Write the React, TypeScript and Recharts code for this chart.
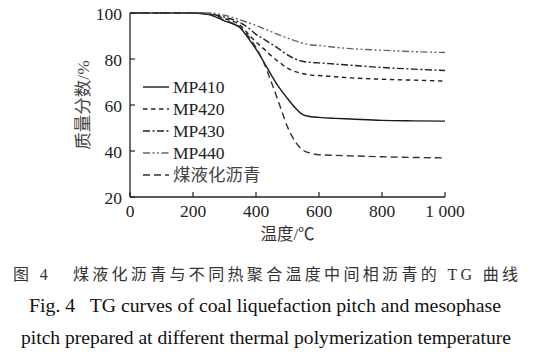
import { LineChart, Line, XAxis, YAxis, Legend } from "recharts";

// temperatures (°C) where the curves were read
const temps = [0, 50, 100, 150, 200, 250, 300, 350, 375, 400, 425, 450, 475, 500, 525, 550, 575, 600, 650, 700, 800, 900, 1000];

// mass fraction (%) per sample
const mp410 = [100, 100, 100, 100, 100, 99.3, 96.6, 93.5, 89.2, 84.3, 78.7, 72.7, 67.3, 62.8, 58.7, 55.7, 54.9, 54.6, 54.2, 53.9, 53.3, 53.1, 53.0];
const mp420 = [100, 100, 100, 100, 100, 99.6, 97.6, 94.6, 91.0, 87.4, 84.4, 81.2, 78.5, 76.0, 74.5, 73.6, 73.0, 72.8, 72.3, 71.8, 71.2, 70.8, 70.4];
const mp430 = [100, 100, 100, 100, 100, 99.7, 98.2, 95.8, 93.6, 90.7, 88.6, 86.5, 84.2, 81.8, 80.0, 78.9, 78.5, 78.3, 77.8, 77.3, 76.3, 75.6, 75.0];
const mp440 = [100, 100, 100, 100, 100, 100, 99.0, 97.0, 95.8, 94.6, 93.2, 91.8, 90.4, 89.1, 87.9, 86.8, 86.1, 85.9, 85.1, 84.5, 83.8, 83.2, 82.8];
const coal = [100, 100, 100, 100, 100, 99.4, 96.8, 93.8, 90.0, 85.0, 78.3, 69.5, 60.0, 50.5, 44.0, 40.3, 39.0, 38.4, 38.1, 37.9, 37.5, 37.2, 37.0];

const xTicks = [0, 200, 400, 600, 800, 1000];
const yTicks = [20, 40, 60, 80, 100];

const data = temps.map((t, i) => ({
  t,
  mp410: mp410[i],
  mp420: mp420[i],
  mp430: mp430[i],
  mp440: mp440[i],
  coal: coal[i],
}));

const series = [
  { key: "mp410", name: "MP410", stroke: "#1a1a1a", dash: undefined as string | undefined },
  { key: "mp420", name: "MP420", stroke: "#222", dash: "4.5 3.5" },
  { key: "mp430", name: "MP430", stroke: "#222", dash: "7 2.5 2 2.5" },
  { key: "mp440", name: "MP440", stroke: "#666", dash: "7 2.5 2 2.5 2 2.5" },
  { key: "coal", name: "煤液化沥青", stroke: "#333", dash: "7 4" },
];

const FONT = "'Liberation Serif', 'Noto Sans CJK SC', serif";

const fmtX = (v: number) => (v === 1000 ? "1 000" : String(v));

function XTick(props: any) {
  const { x, y, payload } = props;
  return (
    <g>
      <line x1={x} x2={x} y1={y} y2={y - 5} stroke="#222" strokeWidth={1.2} />
      <text x={x} y={y + 19.5} textAnchor="middle" fontSize={17.5} fill="#222" fontFamily={FONT}>
        {fmtX(payload.value)}
      </text>
    </g>
  );
}

function YTick(props: any) {
  const { x, y, payload } = props;
  return (
    <g>
      <line x1={x} x2={x + 5} y1={y} y2={y} stroke="#222" strokeWidth={1.2} />
      <text x={x - 8} y={y + 6.5} textAnchor="end" fontSize={17.5} fill="#222" fontFamily={FONT}>
        {payload.value}
      </text>
    </g>
  );
}

function LegendBox() {
  return (
    <svg width={130} height={115}>
      {series.map((s, i) => {
        const yy = 12 + i * 22;
        return (
          <g key={s.key}>
            <line x1={3} x2={29} y1={yy} y2={yy} stroke={s.stroke} strokeWidth={1.4} strokeDasharray={s.dash} />
            <text
              x={33}
              y={yy + 6.3}
              fontSize={17.5}
              fill={i === 4 ? "#444" : "#222"}
              fontFamily={FONT}
            >
              {s.name}
            </text>
          </g>
        );
      })}
    </svg>
  );
}

export default function App() {
  return (
    <div
      style={{
        position: "absolute",
        left: 0,
        top: 0,
        width: 546,
        height: 361,
        background: "#fff",
        fontFamily: FONT,
      }}
    >
      <LineChart width={546} height={250} data={data} margin={{ top: 13, right: 101, left: 0, bottom: 0 }}>
        <XAxis
          dataKey="t"
          type="number"
          domain={[0, 1000]}
          ticks={xTicks}
          height={53}
          tickSize={0}
          tickMargin={0}
          tick={<XTick />}
          axisLine={{ stroke: "#222", strokeWidth: 1.3 }}
          label={{
            value: "温度/℃",
            position: "insideBottom",
            offset: 10,
            fontSize: 16.5,
            fill: "#333",
            fontFamily: FONT,
          }}
        />
        <YAxis
          type="number"
          domain={[20, 100]}
          ticks={yTicks}
          width={130}
          tickSize={0}
          tickMargin={0}
          tick={<YTick />}
          axisLine={{ stroke: "#222", strokeWidth: 1.3 }}
          label={{
            value: "质量分数/%",
            angle: -90,
            position: "insideLeft",
            offset: 83,
            fontSize: 17.5,
            fill: "#444",
            fontFamily: FONT,
            style: { textAnchor: "middle" },
          }}
        />
        <Legend
          layout="vertical"
          align="center"
          verticalAlign="middle"
          wrapperStyle={{ left: 140, top: 75, width: 130 }}
          content={() => <LegendBox />}
        />
        {series.map((s) => (
          <Line
            key={s.key}
            type="monotone"
            dataKey={s.key}
            name={s.name}
            stroke={s.stroke}
            strokeWidth={1.4}
            strokeDasharray={s.dash}
            dot={false}
            activeDot={false}
            isAnimationActive={false}
          />
        ))}
      </LineChart>
      <svg width={546} height={111} style={{ position: "absolute", left: 0, top: 250 }}>
        <text
          x={13}
          y={30}
          fontSize={16}
          fill="#333"
          fontFamily={FONT}
          textLength={505}
          lengthAdjust="spacing"
          style={{ whiteSpace: "pre" }}
        >
          {"图 4   煤液化沥青与不同热聚合温度中间相沥青的 TG 曲线"}
        </text>
        <text
          x={29}
          y={62}
          fontSize={19}
          fill="#111"
          fontFamily={FONT}
          textLength={472}
          lengthAdjust="spacingAndGlyphs"
          style={{ whiteSpace: "pre" }}
        >
          {"Fig. 4   TG curves of coal liquefaction pitch and mesophase"}
        </text>
        <text
          x={21}
          y={94}
          fontSize={19}
          fill="#111"
          fontFamily={FONT}
          textLength={490}
          lengthAdjust="spacingAndGlyphs"
          style={{ whiteSpace: "pre" }}
        >
          {"pitch prepared at different thermal polymerization temperature"}
        </text>
      </svg>
    </div>
  );
}
